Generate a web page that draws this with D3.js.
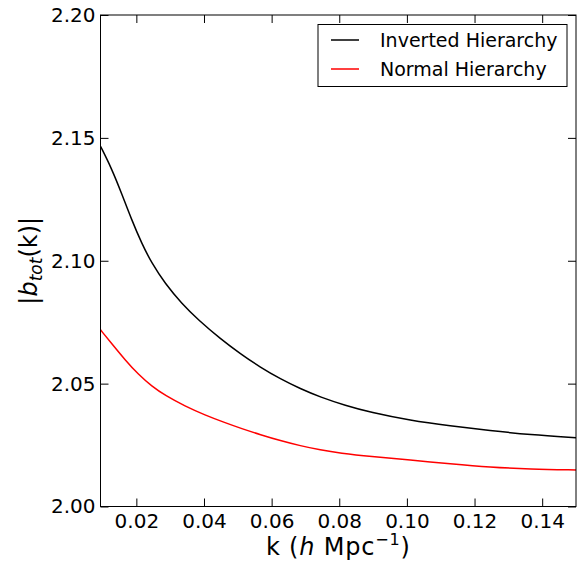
<!DOCTYPE html>
<html>
<head>
<meta charset="utf-8">
<script src="https://cdn.jsdelivr.net/npm/d3@7"></script>
<style>
  html, body { margin: 0; padding: 0; background: #fff; }
  svg { display: block; font-family: "DejaVu Sans", sans-serif; }
</style>
</head>
<body>
<svg id="chart" width="577" height="563"></svg>
<script>
// Total bias |b_tot(k)| for the two neutrino mass hierarchies
const kInverted = [0.0094, 0.0127, 0.0157, 0.0186, 0.0216, 0.0246, 0.0285, 0.0334, 0.0384, 0.0448, 0.0508, 0.0567, 0.0626, 0.0685, 0.0744, 0.0818, 0.0892, 0.1010, 0.1128, 0.1246, 0.1364, 0.150];
const bInverted = [2.1466, 2.1375, 2.1272, 2.1167, 2.1070, 2.0989, 2.0907, 2.0826, 2.0758, 2.0683, 2.0621, 2.0566, 2.0519, 2.0479, 2.0445, 2.0411, 2.0383, 2.0350, 2.0328, 2.0309, 2.0292, 2.0280];

const kNormal = [0.0094, 0.0127, 0.0167, 0.0206, 0.0246, 0.0285, 0.0344, 0.0403, 0.0462, 0.0511, 0.0567, 0.0626, 0.0685, 0.0744, 0.0803, 0.0892, 0.1010, 0.1128, 0.1246, 0.1364, 0.150];
const bNormal = [2.0719, 2.0663, 2.0596, 2.0537, 2.0489, 2.0452, 2.0408, 2.0372, 2.0341, 2.0317, 2.0292, 2.0268, 2.0247, 2.0230, 2.0217, 2.0203, 2.0189, 2.0174, 2.0160, 2.0152, 2.0149];

const seriesNames = ["Inverted Hierarchy", "Normal Hierarchy"];
const seriesColors = ["#000000", "#ff0000"];

const xTicks = [0.02, 0.04, 0.06, 0.08, 0.10, 0.12, 0.14];
const yTicks = [2.00, 2.05, 2.10, 2.15, 2.20];

const svg = d3.select("#chart");
const mLeft = 100.5, mRight = 576, mTop = 15, mBottom = 506.5;
const tickLen = 8;

const x = d3.scaleLinear().domain([0.0094, 0.15]).range([mLeft, mRight]);
const y = d3.scaleLinear().domain([2.00, 2.20]).range([mBottom, mTop]);

const series = [
  { name: seriesNames[0], color: seriesColors[0], k: kInverted, b: bInverted },
  { name: seriesNames[1], color: seriesColors[1], k: kNormal, b: bNormal }
];

const line = d3.line()
  .x(d => x(d[0]))
  .y(d => y(d[1]))
  .curve(d3.curveBasis);

// curves
const plot = svg.append("g");
series.forEach(s => {
  plot.append("path")
    .datum(s.k.map((k, i) => [k, s.b[i]]))
    .attr("fill", "none")
    .attr("stroke", s.color)
    .attr("stroke-width", 1.5)
    .attr("d", line);
});

// axes with inward ticks on all four sides
const fmt2 = d3.format(".2f");
const axB = d3.axisBottom(x).tickValues(xTicks).tickFormat(fmt2).tickSizeInner(-tickLen).tickSizeOuter(0).tickPadding(7);
const axT = d3.axisTop(x).tickValues(xTicks).tickFormat("").tickSizeInner(-tickLen).tickSizeOuter(0);
const axL = d3.axisLeft(y).tickValues(yTicks).tickFormat(fmt2).tickSizeInner(-tickLen).tickSizeOuter(0).tickPadding(5);
const axR = d3.axisRight(y).tickValues(yTicks).tickFormat("").tickSizeInner(-tickLen).tickSizeOuter(0);

function styleAxis(g) {
  g.select(".domain").remove();
  g.selectAll(".tick line").attr("stroke", "#000").attr("stroke-width", 1);
  g.selectAll(".tick text").attr("fill", "#000")
    .style("font-family", "'DejaVu Sans', sans-serif").style("font-size", "20px");
}
svg.append("g").attr("transform", `translate(0,${mBottom})`).call(axB).call(styleAxis);
svg.append("g").attr("transform", `translate(0,${mTop})`).call(axT).call(styleAxis);
svg.append("g").attr("transform", `translate(${mLeft},0)`).call(axL).call(styleAxis);
svg.append("g").attr("transform", `translate(${mRight},0)`).call(axR).call(styleAxis);

// frame
svg.append("rect")
  .attr("x", mLeft).attr("y", mTop)
  .attr("width", mRight - mLeft).attr("height", mBottom - mTop)
  .attr("fill", "none").attr("stroke", "#000").attr("stroke-width", 1);

// x label: k (h Mpc^-1)
const xl = svg.append("text")
  .attr("x", (mLeft + mRight) / 2).attr("y", 555)
  .attr("text-anchor", "middle")
  .style("font-size", "24px").style("letter-spacing", "0.8px").attr("fill", "#000");
xl.append("tspan").text("k (");
xl.append("tspan").style("font-style", "italic").text("h");
xl.append("tspan").text(" Mpc");
xl.append("tspan").attr("dy", -10).style("font-size", "16px").text("\u22121");
xl.append("tspan").attr("dy", 10).text(")");

// y label: |b_tot(k)|
const yl = svg.append("text")
  .attr("transform", `translate(37,${(mTop + mBottom) / 2}) rotate(-90)`)
  .attr("text-anchor", "middle")
  .style("font-size", "24px").attr("fill", "#000");
yl.append("tspan").text("|");
yl.append("tspan").style("font-style", "italic").text("b");
yl.append("tspan").attr("dy", 5).style("font-style", "italic").style("font-size", "17px").text("tot");
yl.append("tspan").attr("dy", -5).text("(k)|");

// legend
const lg = svg.append("g");
lg.append("rect")
  .attr("x", 318).attr("y", 24.5).attr("width", 249).attr("height", 62)
  .attr("fill", "#fff").attr("stroke", "#000").attr("stroke-width", 1);
series.forEach((s, i) => {
  const yy = 40 + i * 29;
  lg.append("line")
    .attr("x1", 331).attr("x2", 359).attr("y1", yy).attr("y2", yy)
    .attr("stroke", s.color).attr("stroke-width", 1.5);
  lg.append("text")
    .attr("x", 380).attr("y", yy).attr("dy", "0.35em")
    .style("font-size", "19px").attr("fill", "#000")
    .text(s.name);
});
</script>
</body>
</html>
